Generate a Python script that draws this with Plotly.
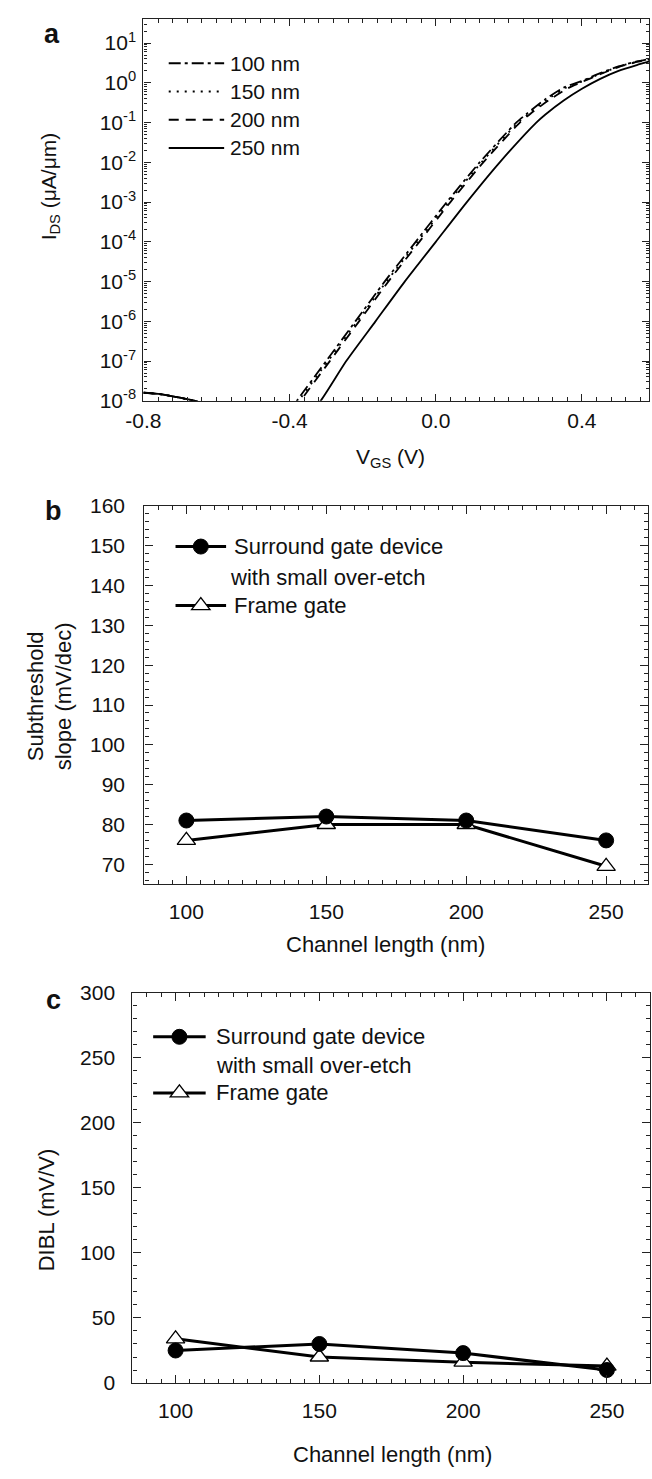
import plotly.graph_objects as go

W, H = 652, 1479
FONT = "Liberation Sans, Arial, sans-serif"
INK = "#111111"

# ---------------- (a) transfer curves, I_DS vs V_GS ----------------
v_100 = [-0.80, -0.76, -0.72, -0.68, -0.65, -0.60, -0.52, -0.47, -0.44, -0.41, -0.38, -0.30, -0.22,
         -0.14, -0.055, 0.03, 0.12, 0.22, 0.25, 0.30, 0.35, 0.40, 0.45, 0.50, 0.55, 0.585]
i_100 = [1.6e-8, 1.5e-8, 1.3e-8, 1.1e-8, 9.5e-9, 7.0e-9, 4.0e-9, 2.5e-9, 1.6e-9, 3.5e-9, 1.0e-8, 1.0e-7, 1.0e-6,
         1.0e-5, 1.0e-4, 1.0e-3, 1.0e-2, 1.0e-1, 0.17, 0.39, 0.76, 1.12, 1.75, 2.6, 3.45, 4.0]

v_150 = [-0.80, -0.76, -0.72, -0.68, -0.65, -0.60, -0.52, -0.47, -0.435, -0.405, -0.375, -0.295, -0.215,
         -0.135, -0.05, 0.035, 0.125, 0.225, 0.255, 0.305, 0.355, 0.40, 0.45, 0.50, 0.55, 0.585]
i_150 = [1.6e-8, 1.5e-8, 1.3e-8, 1.1e-8, 9.5e-9, 7.0e-9, 4.0e-9, 2.5e-9, 1.6e-9, 3.5e-9, 1.0e-8, 1.0e-7, 1.0e-6,
         1.0e-5, 1.0e-4, 1.0e-3, 1.0e-2, 1.0e-1, 0.17, 0.38, 0.74, 1.08, 1.7, 2.55, 3.4, 3.95]

v_200 = [-0.80, -0.76, -0.72, -0.68, -0.65, -0.60, -0.52, -0.47, -0.43, -0.40, -0.37, -0.29, -0.21,
         -0.13, -0.045, 0.04, 0.13, 0.23, 0.26, 0.31, 0.36, 0.40, 0.45, 0.50, 0.55, 0.585]
i_200 = [1.6e-8, 1.5e-8, 1.3e-8, 1.1e-8, 9.5e-9, 7.0e-9, 4.0e-9, 2.5e-9, 1.6e-9, 3.5e-9, 1.0e-8, 1.0e-7, 1.0e-6,
         1.0e-5, 1.0e-4, 1.0e-3, 1.0e-2, 1.0e-1, 0.17, 0.37, 0.72, 1.05, 1.65, 2.5, 3.35, 3.9]

v_250 = [-0.80, -0.76, -0.72, -0.68, -0.65, -0.60, -0.52, -0.45, -0.40, -0.36, -0.315, -0.245, -0.165,
         -0.085, 0.0, 0.085, 0.175, 0.275, 0.30, 0.35, 0.40, 0.45, 0.50, 0.55, 0.585]
i_250 = [1.6e-8, 1.5e-8, 1.3e-8, 1.1e-8, 9.5e-9, 7.0e-9, 4.0e-9, 2.5e-9, 1.5e-9, 3.5e-9, 1.0e-8, 1.0e-7, 1.0e-6,
         1.0e-5, 1.0e-4, 1.0e-3, 1.0e-2, 1.0e-1, 0.16, 0.36, 0.71, 1.26, 2.0, 2.8, 3.45]

curve_names = ["100 nm", "150 nm", "200 nm", "250 nm"]
curve_dash = ["12px,4px,3px,4px", "2px,6px", "10px,7px", "solid"]

vgs_ticks = [-0.8, -0.4, 0.0, 0.4]
vgs_labels = ["-0.8", "-0.4", "0.0", "0.4"]
ids_exponents = [-8, -7, -6, -5, -4, -3, -2, -1, 0, 1]

# ---------------- (b) subthreshold slope, (c) DIBL ----------------
channel_nm = [100, 150, 200, 250]
ss_surround = [81, 82, 81, 76]
ss_frame = [76, 80, 80, 69.5]
dibl_surround = [25, 30, 23, 10]
dibl_frame = [34, 20, 16, 13]

series_names = ["Surround gate device", "with small over-etch", "Frame gate"]


def px(x):
    return x / W


def py(y):
    return 1 - y / H


fig = go.Figure()

# panel a curves
for v, i, name, dash in zip([v_100, v_150, v_200, v_250], [i_100, i_150, i_200, i_250],
                            curve_names, curve_dash):
    fig.add_trace(go.Scatter(x=v, y=i, mode="lines", name=name,
                             line=dict(color="black", width=1.8, dash=dash, shape="spline", smoothing=0.6),
                             xaxis="x", yaxis="y", showlegend=False))

# panels b and c: connecting lines first, markers on top
for xa, ya, surround, frame in [("x2", "y2", ss_surround, ss_frame), ("x3", "y3", dibl_surround, dibl_frame)]:
    for vals in (surround, frame):
        fig.add_trace(go.Scatter(x=channel_nm, y=vals, mode="lines", line=dict(color="black", width=3),
                                 xaxis=xa, yaxis=ya, showlegend=False))
    fig.add_trace(go.Scatter(x=channel_nm, y=frame, mode="markers", name=series_names[2],
                             marker=dict(symbol="triangle-up", size=16, color="white",
                                         line=dict(color="black", width=1.3)),
                             xaxis=xa, yaxis=ya, showlegend=False))
    fig.add_trace(go.Scatter(x=channel_nm, y=surround, mode="markers", name=series_names[0],
                             marker=dict(symbol="circle", size=15, color="black",
                                         line=dict(color="black", width=1)),
                             xaxis=xa, yaxis=ya, showlegend=False))

axis_common = dict(showline=True, linecolor="#222222", linewidth=1.3, mirror="allticks",
                   ticks="inside", tickcolor="#222222", showgrid=False, zeroline=False,
                   tickfont=dict(family=FONT, size=21, color=INK))

log_minor = [m * 10.0 ** e for e in range(-8, 2) for m in range(2, 10)]

fig.update_layout(
    width=W, height=H, margin=dict(l=0, r=0, t=0, b=0),
    paper_bgcolor="white", plot_bgcolor="white", showlegend=False,
    xaxis=dict(domain=[px(129), px(649)], range=[-0.8, 0.5837], anchor="y",
               tickmode="array", tickvals=vgs_ticks, ticktext=vgs_labels, ticklen=7,
               ticklabelstandoff=1,
               minor=dict(ticks="inside", ticklen=4, tick0=-0.8, dtick=0.04, tickcolor="#222222"),
               **axis_common),
    yaxis=dict(domain=[py(395), py(7.3)], type="log", range=[-8, 1.602], anchor="x",
               tickmode="array", tickvals=[10.0 ** e for e in ids_exponents],
               ticktext=["10<sup>%d</sup>" % e for e in ids_exponents], ticklen=7,
               ticklabelstandoff=2,
               minor=dict(ticks="inside", ticklen=3, tickmode="array", tickvals=log_minor,
                          tickcolor="#222222"),
               **axis_common),
    xaxis2=dict(domain=[px(130), px(648)], range=[85, 265], anchor="y2",
                tick0=100, dtick=50, ticklen=8, ticklabelstandoff=8,
                minor=dict(ticks="inside", ticklen=4, dtick=5, tickcolor="#222222"),
                **axis_common),
    yaxis2=dict(domain=[py(886), py(501.7)], range=[65, 160], anchor="x2",
                tick0=70, dtick=10, ticklen=8, ticklabelstandoff=14,
                minor=dict(ticks="inside", ticklen=4, dtick=2, tickcolor="#222222"),
                **axis_common),
    xaxis3=dict(domain=[px(117.7), px(650)], range=[85, 265], anchor="y3",
                tick0=100, dtick=50, ticklen=8, ticklabelstandoff=9,
                minor=dict(ticks="inside", ticklen=4, dtick=5, tickcolor="#222222"),
                **axis_common),
    yaxis3=dict(domain=[py(1392.7), py(996)], range=[0, 300], anchor="x3",
                tick0=0, dtick=50, ticklen=8, ticklabelstandoff=12,
                minor=dict(ticks="inside", ticklen=4, dtick=10, tickcolor="#222222"),
                **axis_common),
)

annotations = []
shapes = []


def text_at(x, y, s, size=21, xanchor="left", angle=0, bold=False):
    annotations.append(dict(x=px(x), y=py(y), xref="paper", yref="paper", text=s, showarrow=False,
                            xanchor=xanchor, yanchor="middle", textangle=angle,
                            font=dict(family=FONT, size=size, color=INK,
                                      weight="bold" if bold else "normal")))


# panel letters
text_at(35, 22, "a", size=27, xanchor="center", bold=True)
text_at(36, 507, "b", size=27, xanchor="center", bold=True)
text_at(36, 1004, "c", size=27, xanchor="center", bold=True)

# axis titles
text_at(33, 177, "I<sub>DS</sub> (μA/μm)", size=21, xanchor="center", angle=-90)
text_at(383, 453, "V<sub>GS</sub> (V)", size=21, xanchor="center")
text_at(33, 695, "Subthreshold<br>slope (mV/dec)", size=22, xanchor="center", angle=-90)
text_at(378, 947, "Channel length (nm)", size=22, xanchor="center")
text_at(29, 1217, "DIBL (mV/V)", size=22, xanchor="center", angle=-90)
text_at(385, 1465, "Channel length (nm)", size=22, xanchor="center")

# panel a key
for k, (name, dash) in enumerate(zip(curve_names, curve_dash)):
    yk = 52 + k * 28.7
    shapes.append(dict(type="line", xref="paper", yref="paper", x0=px(155), x1=px(212), y0=py(yk), y1=py(yk),
                       line=dict(color="black", width=2, dash=dash)))
    text_at(216, yk, name, size=21)


def key_rows(x0, x1, y_first, y_second, y_third, tx, tx2):
    xm = (x0 + x1) / 2
    for yk in (y_first, y_third):
        shapes.append(dict(type="line", xref="paper", yref="paper", x0=px(x0), x1=px(x1), y0=py(yk), y1=py(yk),
                           line=dict(color="black", width=3)))
    shapes.append(dict(type="circle", xref="paper", yref="paper", xsizemode="pixel", ysizemode="pixel",
                       xanchor=px(xm), yanchor=py(y_first), x0=-7.5, x1=7.5, y0=-7.5, y1=7.5,
                       fillcolor="black", line=dict(color="black", width=1)))
    shapes.append(dict(type="path", xref="paper", yref="paper", xsizemode="pixel", ysizemode="pixel",
                       xanchor=px(xm), yanchor=py(y_third), path="M-9.24,-4 L9.24,-4 L0,8 Z",
                       fillcolor="white", line=dict(color="black", width=1.3)))
    text_at(tx, y_first, series_names[0], size=22)
    text_at(tx2, y_second, series_names[1], size=22)
    text_at(tx, y_third, series_names[2], size=22)


key_rows(162, 214, 543, 574, 603, 220, 216)
key_rows(139, 193, 1041, 1070, 1098, 202, 202)

fig.update_layout(annotations=annotations, shapes=shapes)

fig.write_html("out.html")
